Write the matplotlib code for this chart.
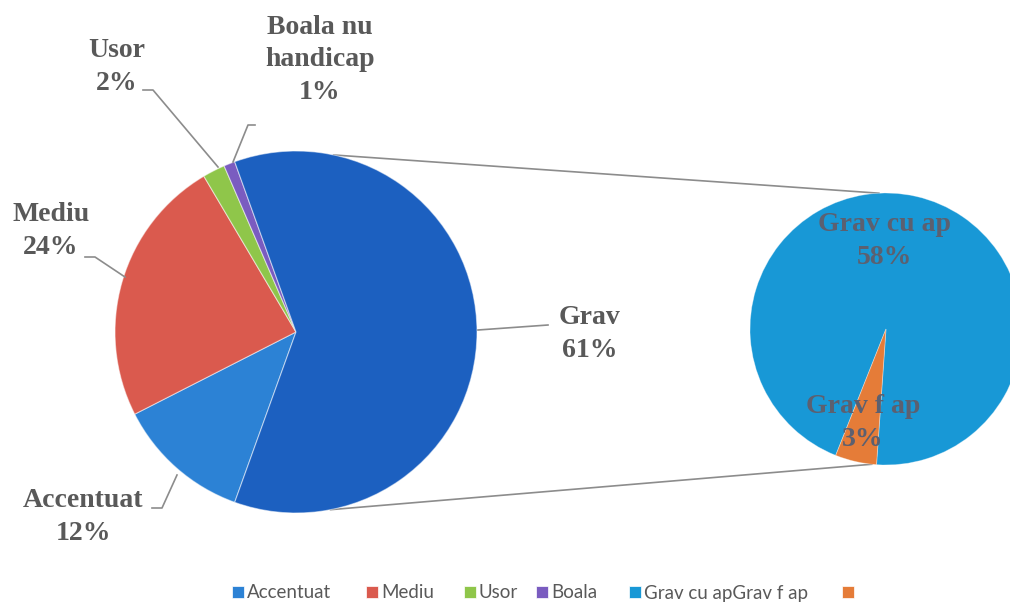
import numpy as np
import matplotlib
matplotlib.use("Agg")
import matplotlib.pyplot as plt
from matplotlib.patches import Patch

# ---- data ----
main_labels = ["Accentuat", "Mediu", "Usor", "Boala nu\nhandicap", "Grav"]
main_values = [12, 24, 2, 1, 61]
main_colors = ["#2C82D5", "#DA5A4E", "#8FC64A", "#7A5CC0", "#1C60C0"]

sub_labels = ["Grav cu ap", "Grav f ap"]
sub_values = [58, 3]
sub_colors = ["#1898D6", "#E57C38"]

legend_labels = ["Accentuat", "Mediu", "Usor", "Boala", "Grav cu apGrav f ap", ""]
legend_colors = main_colors[:4] + sub_colors

W, H = 1010, 605
fig = plt.figure(figsize=(W / 100, H / 100), dpi=100)
ax = fig.add_axes([0, 0, 1, 1])

def P(x, y):
    return (x, H - y)

# main pie
mc = P(296, 332)
mr = 181
grav_span = main_values[-1] / sum(main_values) * 360
ax.pie(main_values, colors=main_colors, center=mc, radius=mr,
       counterclock=False, startangle=-grav_span / 2,
       wedgeprops=dict(linewidth=0.8, edgecolor="#FFFFFF80"))

# secondary pie
sc = P(886, 329)
sr = 136
ax.pie(sub_values, colors=sub_colors, center=sc, radius=sr,
       counterclock=True, startangle=-94,
       wedgeprops=dict(linewidth=0.6, edgecolor="#FFFFFF60"))

ax.set_xlim(0, W)
ax.set_ylim(0, H)
ax.set_aspect("equal")
ax.axis("off")

# connector lines between the pies
def pt(c, r, ang):
    a = np.deg2rad(ang)
    return c[0] + r * np.cos(a), c[1] + r * np.sin(a)

for a1, a2 in [(78, 93), (-79, -96)]:
    p1 = pt(mc, mr, a1)
    p2 = pt(sc, sr, a2)
    ax.plot([p1[0], p2[0]], [p1[1], p2[1]], color="#8C8C8C", lw=1.2, zorder=0)

# leader lines
leaders = [
    [(478, 330), (548, 325)],
    [(152, 508), (162, 508), (177, 475)],
    [(85, 257), (95, 257), (125, 277)],
    [(143, 90), (153, 90), (218, 167)],
    [(255, 125), (248, 125), (233, 162)],
]
for seg in leaders:
    xs, ys = zip(*[P(x, y) for x, y in seg])
    ax.plot(xs, ys, color="#8C8C8C", lw=1.2)

# labels
lab_font = dict(family="Liberation Serif", fontweight="bold", fontsize=20,
                color="#595959", ha="center", va="center",
                multialignment="center", linespacing=1.38)
label_pos = [(83, 517), (51, 231), (117, 67), (320, 60), (590, 334)]
for lab, v, (x, y) in zip(main_labels, main_values, label_pos):
    ax.text(*P(x, y), f"{lab}\n{v}%", **lab_font)

sub_font = dict(lab_font)
sub_font["color"] = "#5C6070"
sub_pos = [(885, 241), (863, 423)]
for lab, v, (x, y) in zip(sub_labels, sub_values, sub_pos):
    ax.text(*P(x, y), f"{lab}\n{v}%", **sub_font)

# legend (one entry per slot, Excel-like spacing)
legend_x = [232, 366, 464, 536, 629, 842]
for lab, col, x in zip(legend_labels, legend_colors, legend_x):
    leg = fig.legend([Patch(facecolor=col, edgecolor="#FFFFFF", linewidth=0.5)], [lab],
                     loc="center left", bbox_to_anchor=(x / W, 1 - 593 / H),
                     frameon=False, borderpad=0, borderaxespad=0,
                     handlelength=0.62, handleheight=0.62, handletextpad=0.18,
                     prop=dict(family="Lato", size=13.5))
    for t in leg.get_texts():
        t.set_color("#595959")

fig.savefig("out.png", dpi=100, facecolor="white")
